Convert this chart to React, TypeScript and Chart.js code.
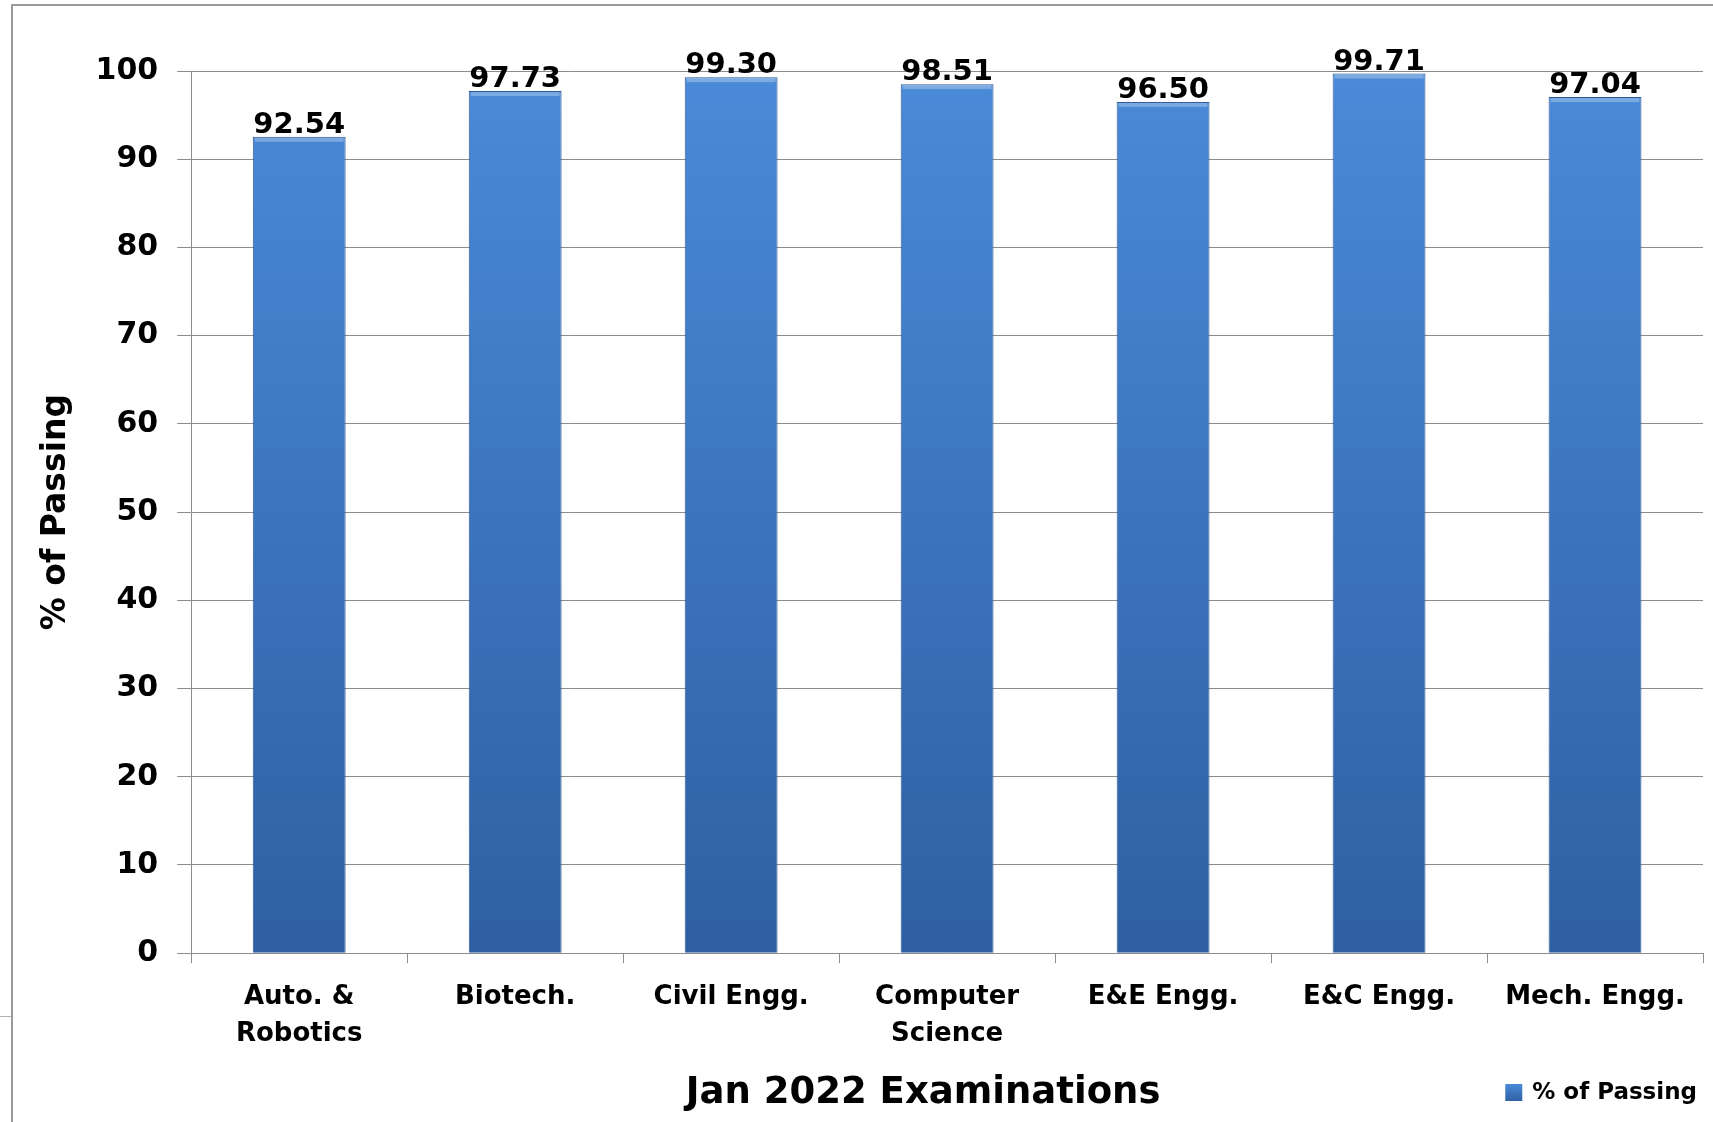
import React, { useEffect, useRef } from "react";
import { Chart, registerables } from "chart.js";

Chart.register(...registerables);

const categories: (string | string[])[] = [
  ["Auto. &", "Robotics"],
  "Biotech.",
  "Civil Engg.",
  ["Computer", "Science"],
  "E&E Engg.",
  "E&C Engg.",
  "Mech. Engg.",
];
const passingValues: number[] = [92.54, 97.73, 99.3, 98.51, 96.5, 99.71, 97.04];
const seriesLabel = "% of Passing";
const yTicks: number[] = [0, 10, 20, 30, 40, 50, 60, 70, 80, 90, 100];
const xTitle = "Jan 2022 Examinations";
const yTitle = "% of Passing";

const FONT = "'DejaVu Sans', sans-serif";

function barGradient(ctx: CanvasRenderingContext2D, top: number, bottom: number) {
  const g = ctx.createLinearGradient(0, top, 0, bottom);
  g.addColorStop(0, "#4a8ad8");
  g.addColorStop(1, "#2e5fa2");
  return g;
}

const valueLabelPlugin = {
  id: "valueLabels",
  afterDatasetsDraw(chart: any) {
    const ctx = chart.ctx;
    const meta = chart.getDatasetMeta(0);
    const data = chart.data.datasets[0].data as number[];
    ctx.save();
    meta.data.forEach((el: any) => {
      const half = el.width / 2;
      ctx.fillStyle = "rgba(255,255,255,0.28)";
      ctx.fillRect(el.x - half + 2, el.y + 1, el.width - 4, 4);
    });
    ctx.font = `bold 29px ${FONT}`;
    ctx.fillStyle = "#000";
    ctx.textAlign = "center";
    ctx.textBaseline = "alphabetic";
    meta.data.forEach((el: any, i: number) => {
      ctx.fillText(Number(data[i]).toFixed(2), el.x, el.y - 4);
    });
    ctx.restore();
  },
};

const bottomTextPlugin = {
  id: "bottomText",
  afterDraw(chart: any) {
    const ctx = chart.ctx;
    const area = chart.chartArea;
    const cy = 1093;
    ctx.save();
    ctx.font = `bold 37px ${FONT}`;
    ctx.fillStyle = "#000";
    ctx.textAlign = "center";
    ctx.textBaseline = "middle";
    ctx.fillText(xTitle, (area.left + area.right) / 2 - 24, cy);
    const label = chart.data.datasets[0].label as string;
    ctx.font = `bold 23px ${FONT}`;
    const tw = ctx.measureText(label).width;
    const right = chart.width - 16;
    const textX = right - tw;
    const boxX = textX - 27;
    ctx.fillStyle = barGradient(ctx, cy - 9, cy + 9);
    ctx.fillRect(boxX, cy - 9, 17, 17);
    ctx.fillStyle = "#000";
    ctx.textAlign = "left";
    ctx.fillText(label, textX, cy);
    ctx.restore();
  },
};

export default function App() {
  const canvasRef = useRef<HTMLCanvasElement | null>(null);

  useEffect(() => {
    document.body.style.margin = "0";
    const canvas = canvasRef.current;
    if (!canvas) return;
    const chart = new Chart(canvas, {
      type: "bar",
      data: {
        labels: categories,
        datasets: [
          {
            label: seriesLabel,
            data: passingValues,
            backgroundColor: (c: any) => {
              const area = c.chart.chartArea;
              if (!area) return "#3f78c4";
              return barGradient(c.chart.ctx, area.top, area.bottom);
            },
            borderColor: "#2c5893",
            borderWidth: 1,
            barPercentage: 0.43,
            categoryPercentage: 1,
          },
        ],
      },
      options: {
        animation: false,
        responsive: false,
        maintainAspectRatio: false,
        devicePixelRatio: 1,
        layout: { padding: { left: 19, right: 10, top: 71, bottom: 54 } },
        plugins: {
          legend: { display: false },
          tooltip: { enabled: false },
        },
        scales: {
          x: {
            offset: true,
            grid: {
              display: true,
              drawOnChartArea: false,
              drawTicks: true,
              tickLength: 10,
              color: "#8c8c8c",
              offset: true,
            },
            border: { display: true, color: "#8c8c8c", width: 1 },
            ticks: {
              color: "#000",
              font: { family: FONT, weight: "bold", size: 26, lineHeight: 1.4 },
              maxRotation: 0,
              minRotation: 0,
              autoSkip: false,
              padding: 16,
            },
            title: { display: false, text: xTitle },
          },
          y: {
            min: 0,
            max: 100,
            afterBuildTicks: (axis: any) => {
              axis.ticks = yTicks.map((v) => ({ value: v }));
            },
            grid: {
              color: "#8c8c8c",
              lineWidth: 1,
              drawTicks: true,
              tickLength: 14,
            },
            border: { display: true, color: "#8c8c8c", width: 1 },
            ticks: {
              color: "#000",
              font: { family: FONT, weight: "bold", size: 30 },
              padding: 19,
            },
            title: {
              display: true,
              text: yTitle,
              color: "#000",
              font: { family: FONT, weight: "bold", size: 33, lineHeight: 1.2 },
              padding: { top: 18, bottom: 0 },
            },
          },
        },
      },
      plugins: [valueLabelPlugin, bottomTextPlugin],
    });
    return () => chart.destroy();
  }, []);

  return (
    <div style={{ position: "relative", width: 1713, height: 1122, background: "#fff" }}>
      <canvas ref={canvasRef} width={1713} height={1122} style={{ display: "block" }} />
      <div
        style={{
          position: "absolute",
          left: 11,
          top: 4,
          right: 0,
          bottom: 0,
          borderTop: "2px solid #9a9a9a",
          borderLeft: "2px solid #9a9a9a",
          pointerEvents: "none",
        }}
      />
      <div
        style={{
          position: "absolute",
          left: 0,
          top: 1016,
          width: 11,
          height: 0,
          borderTop: "1px solid #b0b0b0",
          pointerEvents: "none",
        }}
      />
    </div>
  );
}
